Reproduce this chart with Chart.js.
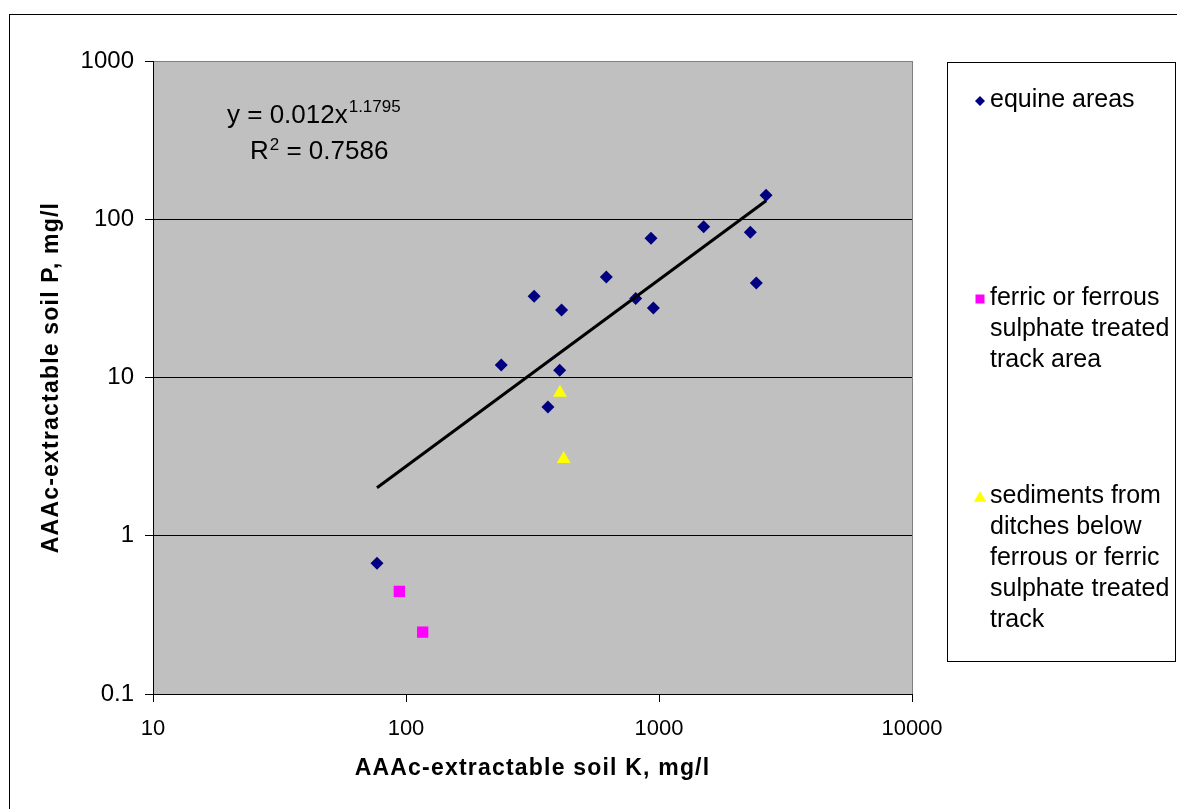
<!DOCTYPE html>
<html lang="en">
<head>
<meta charset="UTF-8">
<title>AAAc-extractable soil K and P</title>
<script src="https://cdn.jsdelivr.net/npm/chart.js"></script>
<style>
  html, body { margin: 0; padding: 0; background: #fff; }
  #wrap { width: 1177px; height: 809px; }
</style>
</head>
<body>
<div id="wrap"><canvas id="chart" width="1177" height="809"></canvas></div>
<script>
// soil K (x) and soil P (y), mg/l
const equineK = [76.8, 238, 321, 364, 405, 412, 619, 809, 930, 950, 1502, 2296, 2425, 2650];
const equineP = [0.67, 12.0, 32.6, 6.5, 11.1, 26.7, 43.2, 31.6, 75.8, 27.5, 89.7, 82.7, 39.5, 142];
const ferricK = [94.1, 116.4];
const ferricP = [0.445, 0.246];
const sedimentK = [406, 420];
const sedimentP = [8.0, 3.05];

// power trendline through the equine points: y = a * x^b
const fitA = 0.012;
const fitB = 1.1795;
const fitR2 = '0.7586';

const xTicks = [10, 100, 1000, 10000];
const yTicks = [0.1, 1, 10, 100, 1000];

const xTitle = 'AAAc-extractable soil K, mg/l';
const yTitle = 'AAAc-extractable soil P, mg/l';

const legendLines = [
  ['equine areas'],
  ['ferric or ferrous', 'sulphate treated', 'track area'],
  ['sediments from', 'ditches below', 'ferrous or ferric', 'sulphate treated', 'track']
];

const FONT = '"Liberation Sans", Arial, sans-serif';

const toPoints = (xs, ys) => xs.map((x, i) => ({ x: x, y: ys[i] }));

const fitX = [Math.min(...equineK), Math.max(...equineK)];
const fitLine = fitX.map(x => ({ x: x, y: fitA * Math.pow(x, fitB) }));

// small marker shapes for the legend box
function marker(ctx, style, x, y, r, color) {
  ctx.fillStyle = color;
  ctx.beginPath();
  if (style === 'rectRot') {
    ctx.moveTo(x - r, y); ctx.lineTo(x, y - r); ctx.lineTo(x + r, y); ctx.lineTo(x, y + r);
  } else if (style === 'rect') {
    ctx.rect(x - r, y - r, 2 * r, 2 * r);
  } else {
    ctx.moveTo(x, y - r); ctx.lineTo(x + r * 1.05, y + r * 0.8); ctx.lineTo(x - r * 1.05, y + r * 0.8);
  }
  ctx.closePath();
  ctx.fill();
}

const backdrop = {
  id: 'backdrop',
  beforeDraw(chart) {
    const { ctx, chartArea: a, width, height } = chart;
    ctx.save();
    ctx.fillStyle = '#fff';
    ctx.fillRect(0, 0, width, height);
    ctx.strokeStyle = '#000';
    ctx.lineWidth = 1;
    ctx.strokeRect(9.5, 14.5, width + 20, height + 20);
    ctx.fillStyle = '#c0c0c0';
    ctx.fillRect(a.left, a.top, a.right - a.left, a.bottom - a.top);
    ctx.strokeStyle = '#808080';
    ctx.beginPath();
    ctx.moveTo(a.right + 0.5, a.top);
    ctx.lineTo(a.right + 0.5, a.bottom);
    ctx.stroke();
    ctx.restore();
  }
};

const annotations = {
  id: 'annotations',
  afterDraw(chart) {
    const { ctx, chartArea: a } = chart;
    ctx.save();
    ctx.fillStyle = '#000';
    ctx.textBaseline = 'alphabetic';
    ctx.textAlign = 'left';

    // trendline equation
    let x = a.left + 74;
    ctx.font = '26px ' + FONT;
    const main = 'y = ' + fitA + 'x';
    ctx.fillText(main, x, 123);
    x += ctx.measureText(main).width + 1;
    ctx.font = '17px ' + FONT;
    ctx.fillText(String(fitB), x, 112);

    x = a.left + 97;
    ctx.font = '26px ' + FONT;
    ctx.fillText('R', x, 159);
    x += ctx.measureText('R').width + 1;
    ctx.font = '17px ' + FONT;
    ctx.fillText('2', x, 150);
    x += ctx.measureText('2').width;
    ctx.font = '26px ' + FONT;
    ctx.fillText(' = ' + fitR2, x, 159);

    // axis titles
    ctx.font = 'bold 23px ' + FONT;
    ctx.letterSpacing = '1.2px';
    ctx.textAlign = 'center';
    ctx.textBaseline = 'middle';
    ctx.fillText(xTitle, (a.left + a.right) / 2, 769);
    ctx.save();
    ctx.translate(52, (a.top + a.bottom) / 2);
    ctx.rotate(-Math.PI / 2);
    ctx.fillText(yTitle, 0, 0);
    ctx.restore();
    ctx.letterSpacing = '0px';

    // legend box
    ctx.strokeStyle = '#000';
    ctx.lineWidth = 1;
    ctx.strokeRect(947.5, 62.5, 228, 599);
    const tops = [100, 298, 496];
    const sizes = [5, 4.5, 6];
    ctx.font = '25px ' + FONT;
    ctx.textAlign = 'left';
    ctx.textBaseline = 'middle';
    ctx.fillStyle = '#000';
    legendLines.forEach((lines, i) => {
      const ds = chart.data.datasets[i];
      marker(ctx, ds.pointStyle, 980, tops[i] + 1, sizes[i], ds.backgroundColor);
      ctx.fillStyle = '#000';
      lines.forEach((t, j) => ctx.fillText(t, 990, tops[i] + j * 31));
    });
    ctx.restore();
  }
};

const chart = new Chart(document.getElementById('chart'), {
  type: 'scatter',
  data: {
    datasets: [
      {
        label: legendLines[0].join(' '),
        data: toPoints(equineK, equineP),
        pointStyle: 'rectRot',
        pointRadius: 6.5,
        pointBorderWidth: 0,
        backgroundColor: '#000080',
        borderColor: '#000080',
        order: 1
      },
      {
        label: legendLines[1].join(' '),
        data: toPoints(ferricK, ferricP),
        pointStyle: 'rect',
        pointRadius: 8,
        pointBorderWidth: 0,
        backgroundColor: '#ff00ff',
        borderColor: '#ff00ff',
        order: 1
      },
      {
        label: legendLines[2].join(' '),
        data: toPoints(sedimentK, sedimentP),
        pointStyle: 'triangle',
        pointRadius: 8,
        pointBorderWidth: 0,
        backgroundColor: '#ffff00',
        borderColor: '#ffff00',
        order: 1
      },
      {
        label: 'Power (equine areas)',
        data: fitLine,
        showLine: true,
        borderColor: '#000',
        borderWidth: 3,
        pointRadius: 0,
        order: 0
      }
    ]
  },
  options: {
    responsive: false,
    animation: false,
    devicePixelRatio: 1,
    layout: { padding: { left: 0, top: 61, right: 265, bottom: 0 } },
    plugins: {
      legend: { display: false },
      tooltip: { enabled: false }
    },
    scales: {
      x: {
        type: 'logarithmic',
        min: xTicks[0],
        max: xTicks[xTicks.length - 1],
        afterBuildTicks: s => { s.ticks = xTicks.map(v => ({ value: v })); },
        afterFit: s => { s.height = 115; },
        ticks: {
          color: '#000',
          font: { family: FONT, size: 22 },
          padding: 14,
          maxRotation: 0,
          autoSkip: false,
          callback: v => String(v)
        },
        grid: { drawOnChartArea: false, tickLength: 8, tickColor: '#000' },
        border: { color: '#000', width: 1 }
      },
      y: {
        type: 'logarithmic',
        min: yTicks[0],
        max: yTicks[yTicks.length - 1],
        afterBuildTicks: s => { s.ticks = yTicks.map(v => ({ value: v })); },
        afterFit: s => { s.width = 153; },
        ticks: {
          color: '#000',
          font: { family: FONT, size: 24 },
          padding: 11,
          autoSkip: false,
          callback: v => String(v)
        },
        grid: {
          color: c => (c.tick && c.tick.value === yTicks[yTicks.length - 1]) ? '#808080' : '#000',
          tickLength: 8,
          tickColor: '#000'
        },
        border: { color: '#000', width: 1 }
      }
    }
  },
  plugins: [backdrop, annotations]
});
</script>
</body>
</html>
